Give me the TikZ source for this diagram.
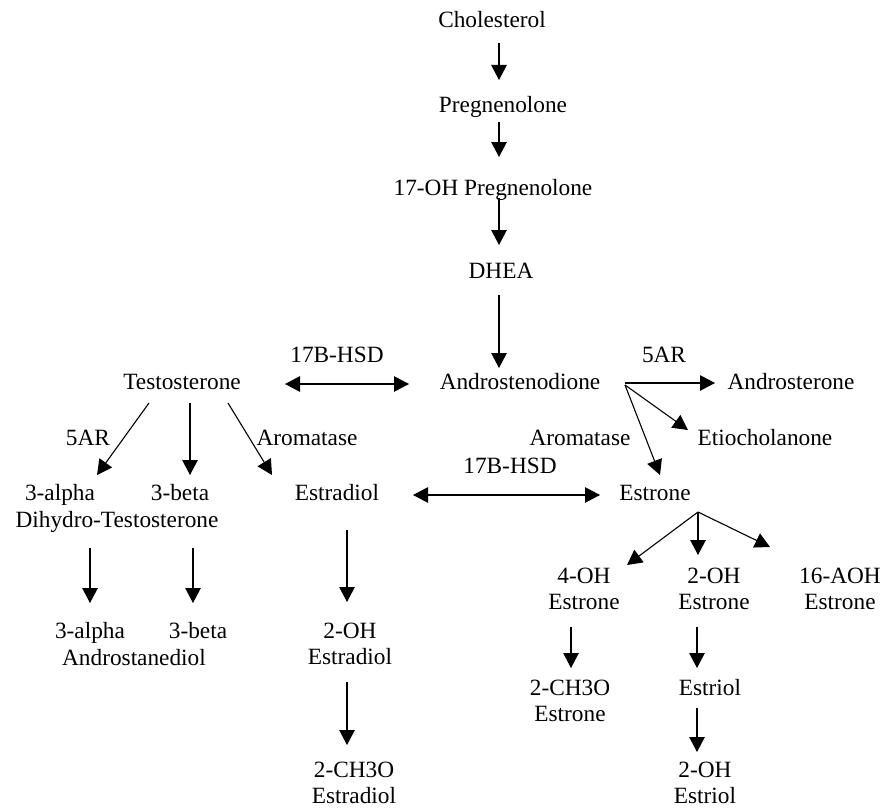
\documentclass[tikz,border=0pt]{standalone}
\usepackage{fontspec}
\setmainfont{Liberation Serif}
\usetikzlibrary{arrows.meta}
\newcommand{\twoline}[2]{\begin{tabular}[t]{@{}c@{}}#1\\#2\end{tabular}}
\begin{document}
\begin{tikzpicture}[x=1pt,y=-1pt,
  lbl/.style={inner sep=0pt,anchor=base,font=\fontsize{23.3}{26.5}\selectfont},
  arr/.style={-{Triangle[width=15.5pt,length=15pt]},line width=1.1pt},
  darr/.style={{Triangle[width=15.5pt,length=15pt]}-{Triangle[width=15.5pt,length=15pt]},line width=1.1pt}]
\useasboundingbox (0,0) rectangle (883,808);
% compounds
\node[lbl] (chol) at (492,28) {Cholesterol};
\node[lbl] (preg) at (503,112) {Pregnenolone};
\node[lbl] (oh17) at (493,195) {17-OH Pregnenolone};
\node[lbl] (dhea) at (501,278) {DHEA};
\node[lbl] (testo) at (182,389) {Testosterone};
\node[lbl] (andro) at (520,389) {Androstenodione};
\node[lbl] (androst) at (791,389) {Androsterone};
\node[lbl] (etio) at (765,445) {Etiocholanone};
\node[lbl] (alpha1) at (60,500) {3-alpha};
\node[lbl] (beta1) at (180,500) {3-beta};
\node[lbl] (dht) at (117,527) {Dihydro-Testosterone};
\node[lbl] (estradiol) at (337,500) {Estradiol};
\node[lbl] (estrone) at (655,500) {Estrone};
\node[lbl] (alpha2) at (90,638) {3-alpha};
\node[lbl] (beta2) at (198,638) {3-beta};
\node[lbl] (adiol) at (134,665) {Androstanediol};
\node[lbl] (oh2e2) at (350,638) {\twoline{2-OH}{Estradiol}};
\node[lbl] (ch3oe2) at (354,777) {\twoline{2-CH3O}{Estradiol}};
\node[lbl] (oh4) at (584,583) {\twoline{4-OH}{Estrone}};
\node[lbl] (oh2e1) at (714,583) {\twoline{2-OH}{Estrone}};
\node[lbl] (aoh16) at (840,583) {\twoline{16-AOH}{Estrone}};
\node[lbl] (ch3oe1) at (570,695) {\twoline{2-CH3O}{Estrone}};
\node[lbl] (estriol) at (710,695) {Estriol};
\node[lbl] (oh2e3) at (705,777) {\twoline{2-OH}{Estriol}};
% enzyme labels
\node[lbl] (hsd1) at (337,362) {17B-HSD};
\node[lbl] (ar1) at (664,362) {5AR};
\node[lbl] (ar2) at (88,445) {5AR};
\node[lbl] (arom1) at (307,445) {Aromatase};
\node[lbl] (arom2) at (580,445) {Aromatase};
\node[lbl] (hsd2) at (510,473) {17B-HSD};
% connectors
\draw[arr] ([shift={(7,15)}]chol.base) -- ([shift={(-4,-32)}]preg.base);
\draw[arr] ([shift={(-4,10)}]preg.base) -- ([shift={(6,-38)}]oh17.base);
\draw[arr] ([shift={(6,3)}]oh17.base) -- ([shift={(-2,-33)}]dhea.base);
\draw[arr] ([shift={(-2,17)}]dhea.base) -- ([shift={(-21,-21)}]andro.base);
\draw[darr] ([shift={(103,-5)}]testo.base) -- ([shift={(-111,-5)}]andro.base);
\draw[arr] ([shift={(105,-6)}]andro.base) -- ([shift={(-76,-6)}]androst.base);
\draw[arr] ([shift={(105,-4)}]andro.base) -- ([shift={(-77,-15)}]etio.base);
\draw[arr] ([shift={(105,-4)}]andro.base) -- ([shift={(5,-25)}]estrone.base);
\draw[arr] ([shift={(-33,14)}]testo.base) -- ([shift={(37,-25)}]alpha1.base);
\draw[arr] ([shift={(8,14)}]testo.base) -- ([shift={(10,-25)}]beta1.base);
\draw[arr] ([shift={(46,14)}]testo.base) -- ([shift={(-65,-25)}]estradiol.base);
\draw[darr] ([shift={(76,-5)}]estradiol.base) -- ([shift={(-55,-5)}]estrone.base);
\draw[arr] ([shift={(-27,21)}]dht.base) -- ([shift={(0,-35)}]alpha2.base);
\draw[arr] ([shift={(76,21)}]dht.base) -- ([shift={(-5,-35)}]beta2.base);
\draw[arr] ([shift={(10,30)}]estradiol.base) -- ([shift={(-3,-36)}]oh2e2.base);
\draw[arr] ([shift={(-3,44)}]oh2e2.base) -- ([shift={(-7,-32)}]ch3oe2.base);
\draw[arr] ([shift={(43,12)}]estrone.base) -- ([shift={(43,-18)}]oh4.base);
\draw[arr] ([shift={(43,12)}]estrone.base) -- ([shift={(-16,-28)}]oh2e1.base);
\draw[arr] ([shift={(43,12)}]estrone.base) -- ([shift={(-70,-36)}]aoh16.base);
\draw[arr] ([shift={(-13,44)}]oh4.base) -- ([shift={(1,-27)}]ch3oe1.base);
\draw[arr] ([shift={(-17,44)}]oh2e1.base) -- ([shift={(-13,-27)}]estriol.base);
\draw[arr] ([shift={(-13,13)}]estriol.base) -- ([shift={(-8,-25)}]oh2e3.base);
\end{tikzpicture}
\end{document}
